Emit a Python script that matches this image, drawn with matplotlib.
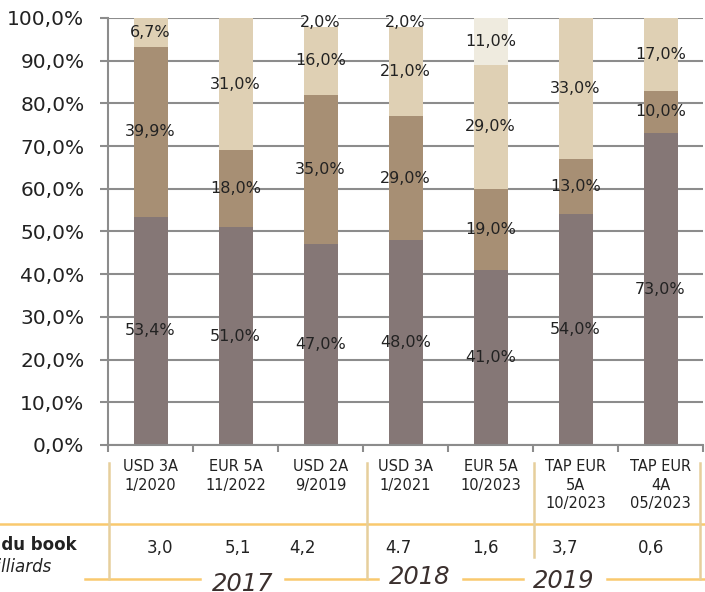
import matplotlib.pyplot as plt
import numpy as np

categories = ["USD 3A\n1/2020", "EUR 5A\n11/2022", "USD 2A\n9/2019", "USD 3A\n1/2021",
              "EUR 5A\n10/2023", "TAP EUR\n5A\n10/2023", "TAP EUR\n4A\n05/2023"]
serie_1 = [53.4, 51.0, 47.0, 48.0, 41.0, 54.0, 73.0]
serie_2 = [39.9, 18.0, 35.0, 29.0, 19.0, 13.0, 10.0]
serie_3 = [6.7, 31.0, 16.0, 21.0, 29.0, 33.0, 17.0]
serie_4 = [0.0, 0.0, 2.0, 2.0, 11.0, 0.0, 0.0]
book_sizes = ["3,0", "5,1", "4,2", "4.7", "1,6", "3,7", "0,6"]
years = ["2017", "2018", "2019"]

colors = ["#857776", "#A78F74", "#DFD0B4"]
top_colors = ["white", "white", "white", "white", "#EFEBDF", "white", "white"]

fig = plt.figure(figsize=(7.05, 5.92), dpi=100)
ax = fig.add_axes([108 / 705, 1 - 445 / 592, 595 / 705, 427 / 592])

x = np.arange(len(categories))
width = 0.4
bottom = np.zeros(len(categories))
for vals, col in zip([serie_1, serie_2, serie_3, serie_4], colors + [top_colors]):
    vals = np.array(vals)
    ax.bar(x, vals, width, bottom=bottom, color=col, zorder=2)
    for xi, v, b in zip(x, vals, bottom):
        if v > 0:
            ax.text(xi, b + v / 2, f"{v:.1f}%".replace(".", ","), ha="center", va="center",
                    fontsize=11.5, color="#222222", zorder=3)
    bottom += vals

ax.set_xlim(-0.5, len(categories) - 0.5)
ax.set_ylim(0, 100)
ax.set_yticks(np.arange(0, 101, 10))
ax.set_yticklabels([f"{v:.1f}%".replace(".", ",") for v in np.arange(0, 101, 10)],
                   fontsize=14.5, color="#222222")
ax.yaxis.grid(True, color="#8C8C8C", linewidth=1.5, zorder=0)
ax.set_axisbelow(True)
ax.tick_params(axis="y", length=6, width=1.5, color="#8C8C8C", pad=11)
ax.set_xticks(np.arange(-0.5, len(categories), 1))
ax.set_xticklabels([])
ax.tick_params(axis="x", length=5, width=1.5, color="#8C8C8C")
for s in ["top", "right"]:
    ax.spines[s].set_visible(False)
for s in ["left", "bottom"]:
    ax.spines[s].set_color("#8C8C8C")
    ax.spines[s].set_linewidth(1.5)

# table below the chart, in figure pixel coordinates
def fx(px):
    return px / 705

def fy(py):
    return 1 - py / 592

for xi, cat in zip(x, categories):
    xp = 108 + 85 * (xi + 0.5)
    fig.text(fx(xp), fy(459), cat, ha="center", va="top", fontsize=10.5,
             color="#222222", linespacing=1.3)

# values in the table row are not exactly centred under the bars
value_x = [160, 238, 303, 398, 485, 565, 651]
for xp, b in zip(value_x, book_sizes):
    fig.text(fx(xp), fy(548), b, ha="center", va="center", fontsize=12, color="#222222")

fig.text(fx(77), fy(545), "Montant du book", ha="right", va="center", fontsize=12,
         fontweight="bold", color="#222222")
fig.text(fx(51), fy(567), "En milliards", ha="right", va="center", fontsize=12,
         style="italic", color="#222222")

gold = "#F9C96E"
tan = "#E6CF9C"
fig.add_artist(plt.Line2D([0, 1], [fy(524), fy(524)], color=gold, lw=1.8))
for xa, xb in [(85, 200), (285, 378), (463, 523), (607, 705)]:
    fig.add_artist(plt.Line2D([fx(xa), fx(xb)], [fy(579), fy(579)], color=gold, lw=1.8))
for xv, yb in [(109, 579), (367, 579), (534, 557), (700, 579)]:
    fig.add_artist(plt.Line2D([fx(xv), fx(xv)], [fy(463), fy(yb)], color=tan, lw=1.8))

for yr, xp, yp in zip(years, [243, 420, 564], [584, 577, 581]):
    fig.text(fx(xp), fy(yp), yr, ha="center", va="center", fontsize=17.5,
             style="italic", color="#3B302E")

fig.savefig("out.png", dpi=100)
